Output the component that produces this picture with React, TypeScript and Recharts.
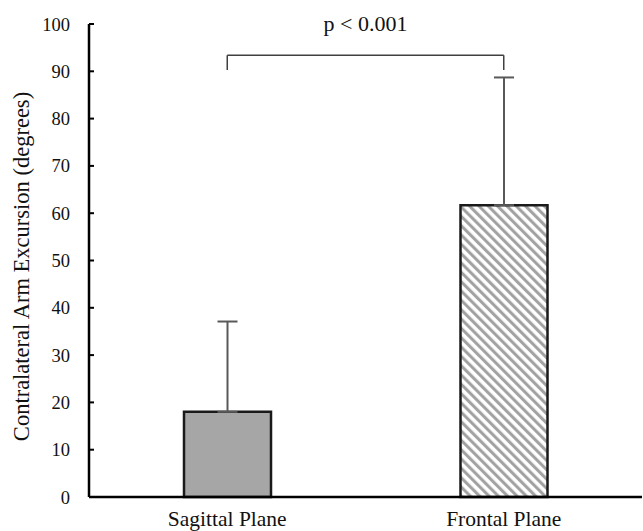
import React from "react";
import {
  BarChart,
  Bar,
  XAxis,
  YAxis,
  Cell,
  ErrorBar,
  ReferenceLine,
} from "recharts";

const categories = ["Sagittal Plane", "Frontal Plane"];
const means = [18.0, 61.7];
const sdUpper = [19.1, 27.0];
const yTicks = [0, 10, 20, 30, 40, 50, 60, 70, 80, 90, 100];
const bracketTop = 93.4;
const bracketLeg = 90.3;
const pLabel = "p < 0.001";

const FONT = "'Liberation Serif', 'Times New Roman', serif";

const data = categories.map((name, i) => ({
  name,
  mean: means[i],
  err: [0, sdUpper[i]],
}));

const YLabel = (props: any) => {
  const { viewBox } = props;
  const x = viewBox.x + 21;
  const y = viewBox.y + viewBox.height / 2 + 6;
  return (
    <text
      x={x}
      y={y}
      transform={`rotate(-90, ${x}, ${y})`}
      textAnchor="middle"
      dominantBaseline="central"
      fontFamily={FONT}
      fontSize={22.5}
      fill="#111"
    >
      Contralateral Arm Excursion (degrees)
    </text>
  );
};

const App: React.FC = () => {
  return (
    <div
      style={{
        position: "absolute",
        left: 0,
        top: 0,
        width: 643,
        height: 531,
        overflow: "hidden",
        background: "#fff",
      }}
    >
      <BarChart
        width={660}
        height={531}
        data={data}
        margin={{ top: 24, right: 18, left: 0, bottom: 0 }}
      >
        <defs>
          <pattern
            id="hatch"
            width={6.6}
            height={6.6}
            patternUnits="userSpaceOnUse"
            patternTransform="rotate(-45)"
          >
            <rect width={6.6} height={6.6} fill="#ffffff" />
            <line x1={1.6} y1={0} x2={1.6} y2={6.6} stroke="#a0a0a0" strokeWidth={3} />
          </pattern>
        </defs>
        <XAxis
          dataKey="name"
          height={34}
          tickLine={false}
          tickSize={0}
          tickMargin={14}
          axisLine={{ stroke: "#000", strokeWidth: 2.5 }}
          tick={{ fill: "#111", fontFamily: FONT, fontSize: 21.5 }}
        />
        <YAxis
          width={89}
          domain={[0, 100]}
          ticks={yTicks}
          interval={0}
          tickSize={-5}
          tickMargin={24}
          axisLine={{ stroke: "#000", strokeWidth: 2.5 }}
          tickLine={{ stroke: "#000", strokeWidth: 2 }}
          tick={{ fill: "#111", fontFamily: FONT, fontSize: 18.5 }}
          label={<YLabel />}
        />
        <Bar
          dataKey="mean"
          barSize={87}
          stroke="#1a1a1a"
          strokeWidth={2.5}
          isAnimationActive={false}
        >
          <Cell fill="#a6a6a6" />
          <Cell fill="url(#hatch)" />
          <ErrorBar
            dataKey="err"
            direction="y"
            width={10}
            stroke="#595959"
            strokeWidth={2}
            isAnimationActive={false}
          />
        </Bar>
        <ReferenceLine
          segment={[
            { x: categories[0], y: bracketTop },
            { x: categories[1], y: bracketTop },
          ]}
          stroke="#404040"
          strokeWidth={1.5}
          label={{
            value: pLabel,
            position: "top",
            offset: 24,
            fill: "#111",
            fontFamily: FONT,
            fontSize: 22,
          }}
        />
        <ReferenceLine
          segment={[
            { x: categories[0], y: bracketLeg },
            { x: categories[0], y: bracketTop },
          ]}
          stroke="#404040"
          strokeWidth={1.5}
        />
        <ReferenceLine
          segment={[
            { x: categories[1], y: bracketLeg },
            { x: categories[1], y: bracketTop },
          ]}
          stroke="#404040"
          strokeWidth={1.5}
        />
      </BarChart>
    </div>
  );
};

export default App;
